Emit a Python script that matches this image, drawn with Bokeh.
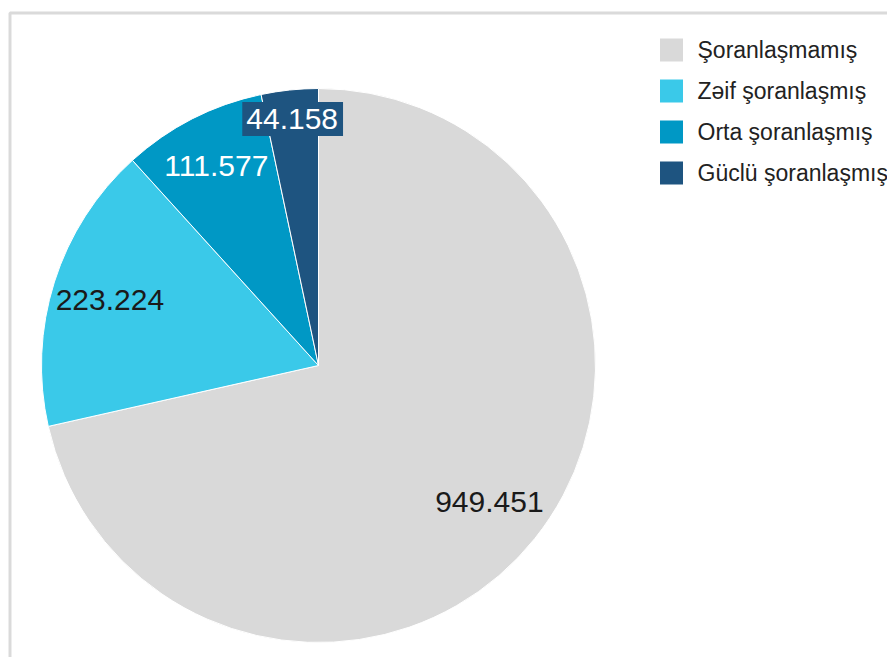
import math
from bokeh.plotting import figure
from bokeh.models import Range1d, Label, ColumnDataSource
from bokeh.core.properties import value
from bokeh.embed import file_html
from bokeh.resources import INLINE

# ---- data ----
categories = ["Şoranlaşmamış", "Zəif şoranlaşmış", "Orta şoranlaşmış", "Güclü şoranlaşmış"]
values = [949.451, 223.224, 111.577, 44.158]
value_labels = ["949.451", "223.224", "111.577", "44.158"]
colors = ["#d9d9d9", "#3ac9e9", "#0098c5", "#1e5480"]
label_colors = ["#1a1a1a", "#1a1a1a", "#ffffff", "#ffffff"]
label_bg = [None, None, None, "#1e5480"]
label_radius_factor = [0.79, 0.79, 0.81, 0.895]

W, H = 887, 657
FONT = "Liberation Sans"

p = figure(width=W, height=H, output_backend="svg", toolbar_location=None,
           x_range=Range1d(0, W), y_range=Range1d(0, H),
           x_axis_type=None, y_axis_type=None, min_border=0)
p.grid.visible = False
p.outline_line_color = None
p.background_fill_color = "white"
p.border_fill_color = "white"

# frame line (top and left edges)
p.line(x=[9.5, 9.5, W + 5], y=[-5, 644.5, 644.5], line_color="#dadada", line_width=3)

# ---- pie ----
cx, cy, R = 318, 292, 277
total = sum(values)
starts, ends, mids = [], [], []
cum = 0.0
for v in values:
    a0 = math.pi / 2 - cum / total * 2 * math.pi
    cum += v
    a1 = math.pi / 2 - cum / total * 2 * math.pi
    starts.append(a0)
    ends.append(a1)
    mids.append((a0 + a1) / 2)

src = ColumnDataSource(dict(start=starts, end=ends, color=colors, name=categories))
p.wedge(x=cx, y=cy, radius=R, start_angle="start", end_angle="end", direction="clock",
        fill_color="color", line_color="white", line_width=1, source=src)

for i, txt in enumerate(value_labels):
    rr = R * label_radius_factor[i]
    lab = Label(x=cx + rr * math.cos(mids[i]), y=cy + rr * math.sin(mids[i]),
                text=txt, text_align="center", text_baseline="middle",
                text_font=FONT, text_font_size="30px", text_color=label_colors[i])
    if label_bg[i]:
        lab.background_fill_color = label_bg[i]
        lab.padding = dict(left=4, right=5, top=7, bottom=7)
    p.add_layout(lab)

# ---- legend ----
lx, ly0, step, sq = 671, 607.5, 41, 23
leg_y = [ly0 - i * step for i in range(len(categories))]
p.rect(x=[lx] * len(categories), y=leg_y, width=sq, height=sq, fill_color=colors, line_color=None)
p.text(x=[lx + 26] * len(categories), y=leg_y, text=categories, text_font=value(FONT),
       text_font_size="23px", text_baseline="middle", text_align="left", text_color="#222222")

open("out.html", "w").write(file_html(p, INLINE))
